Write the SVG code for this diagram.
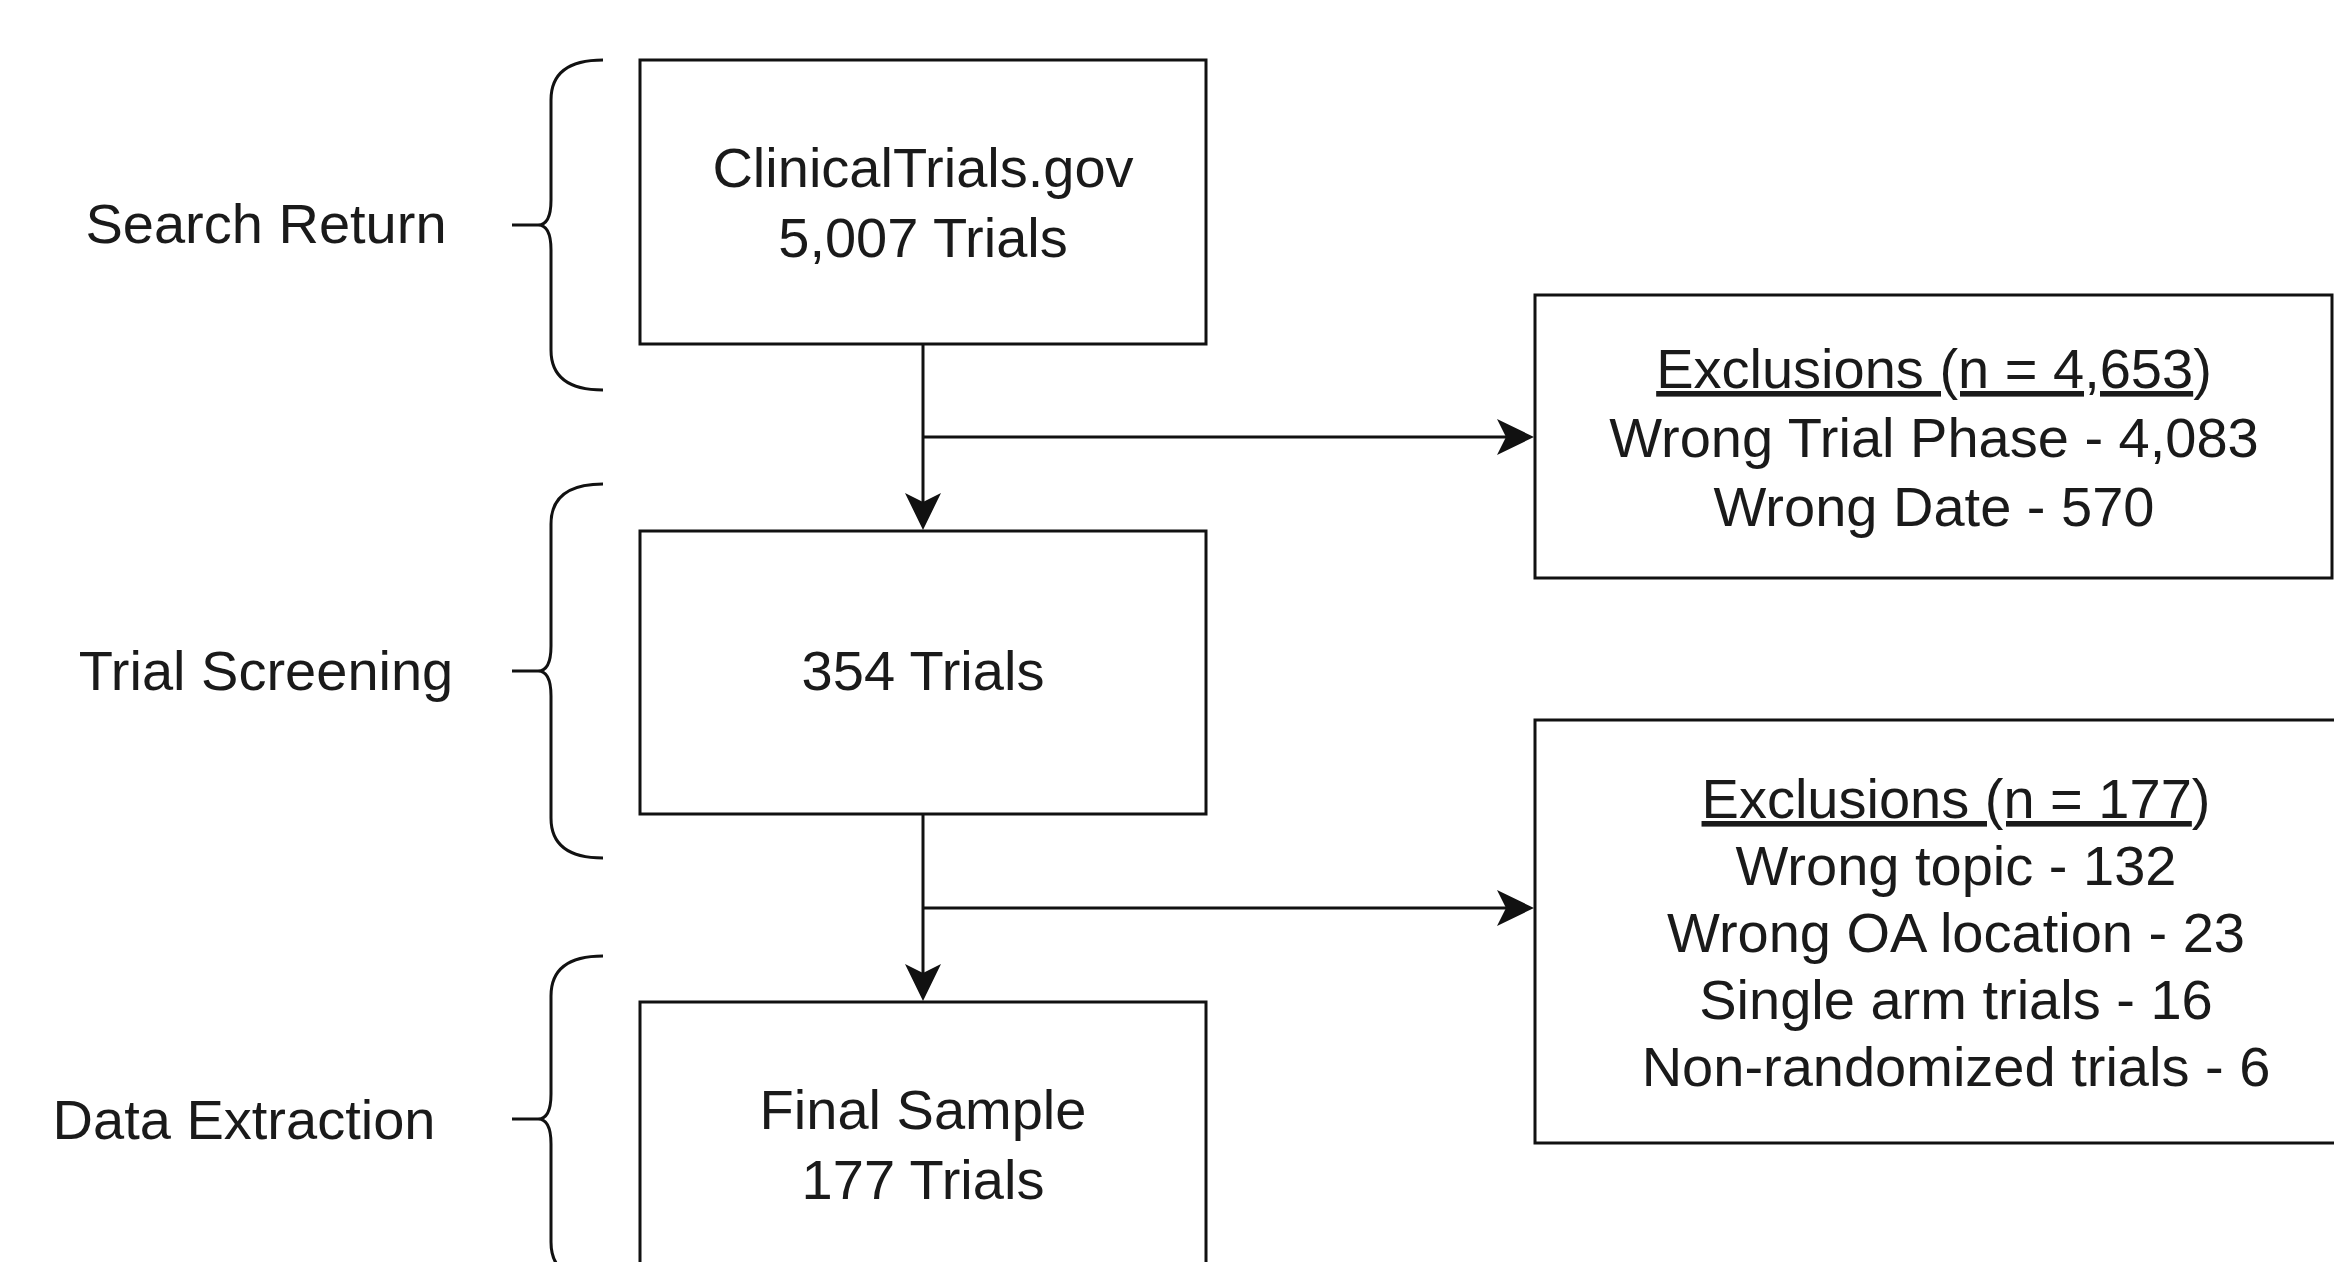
<svg xmlns="http://www.w3.org/2000/svg" width="2334" height="1262" viewBox="0 0 2334 1262">
  <style>
    .box { fill: #ffffff; stroke: #111111; stroke-width: 3; }
    .brace { fill: none; stroke: #111111; stroke-width: 3; stroke-linejoin: round; }
    .conn { fill: none; stroke: #111111; stroke-width: 3; }
    .t { font-family: "Liberation Sans", Arial, Helvetica, sans-serif; font-size: 56px; fill: #1a1a1a; text-anchor: middle; }
    .u { text-decoration: underline; }
  </style>
  <defs>
    <marker id="arrow" markerUnits="userSpaceOnUse" markerWidth="40" markerHeight="38" viewBox="0 0 40 38" refX="26" refY="19" orient="auto">
      <path d="M0,1 L37,19 L0,37 L9,19 Z" fill="#111111"/>
    </marker>
  </defs>
  <rect width="2334" height="1262" fill="#ffffff"/>

  <g id="label-search-return">
    <text class="t" x="266" y="243">Search Return</text>
    <path class="brace" d="M603,60 Q551,60 551,100 L551,200 Q551,225 538,225 L512,225 M538,225 Q551,225 551,250 L551,350 Q551,390 603,390"/>
  </g>
  <g id="label-trial-screening">
    <text class="t" x="266" y="690">Trial Screening</text>
    <path class="brace" d="M603,484 Q551,484 551,524 L551,646 Q551,671 538,671 L512,671 M538,671 Q551,671 551,696 L551,818 Q551,858 603,858"/>
  </g>
  <g id="label-data-extraction">
    <text class="t" x="244" y="1139">Data Extraction</text>
    <path class="brace" d="M603,956 Q551,956 551,996 L551,1094 Q551,1119 538,1119 L512,1119 M538,1119 Q551,1119 551,1144 L551,1242 Q551,1282 603,1282"/>
  </g>

  <g id="connectors">
    <path class="conn" d="M923,344 L923,519" marker-end="url(#arrow)"/>
    <path class="conn" d="M923,437 L1523,437" marker-end="url(#arrow)"/>
    <path class="conn" d="M923,814 L923,990" marker-end="url(#arrow)"/>
    <path class="conn" d="M923,908 L1523,908" marker-end="url(#arrow)"/>
  </g>

  <g id="node-clinicaltrials">
    <rect class="box" x="640" y="60" width="566" height="284"/>
    <text class="t" x="923" y="187">ClinicalTrials.gov</text>
    <text class="t" x="923" y="257">5,007 Trials</text>
  </g>
  <g id="node-screening">
    <rect class="box" x="640" y="531" width="566" height="283"/>
    <text class="t" x="923" y="690">354 Trials</text>
  </g>
  <g id="node-final">
    <rect class="box" x="640" y="1002" width="566" height="300"/>
    <text class="t" x="923" y="1129">Final Sample</text>
    <text class="t" x="923" y="1199">177 Trials</text>
  </g>
  <g id="node-exclusions-1">
    <rect class="box" x="1535" y="295" width="797" height="283"/>
    <text class="t" x="1934" y="388"><tspan class="u">Exclusions (n = 4,653</tspan>)</text>
    <text class="t" x="1934" y="457">Wrong Trial Phase - 4,083</text>
    <text class="t" x="1934" y="526">Wrong Date - 570</text>
  </g>
  <g id="node-exclusions-2">
    <rect class="box" x="1535" y="720" width="842" height="423"/>
    <text class="t" x="1956" y="818"><tspan class="u">Exclusions (n = 177</tspan>)</text>
    <text class="t" x="1956" y="885">Wrong topic - 132</text>
    <text class="t" x="1956" y="952">Wrong OA location - 23</text>
    <text class="t" x="1956" y="1019">Single arm trials - 16</text>
    <text class="t" x="1956" y="1086">Non-randomized trials - 6</text>
  </g>
</svg>
